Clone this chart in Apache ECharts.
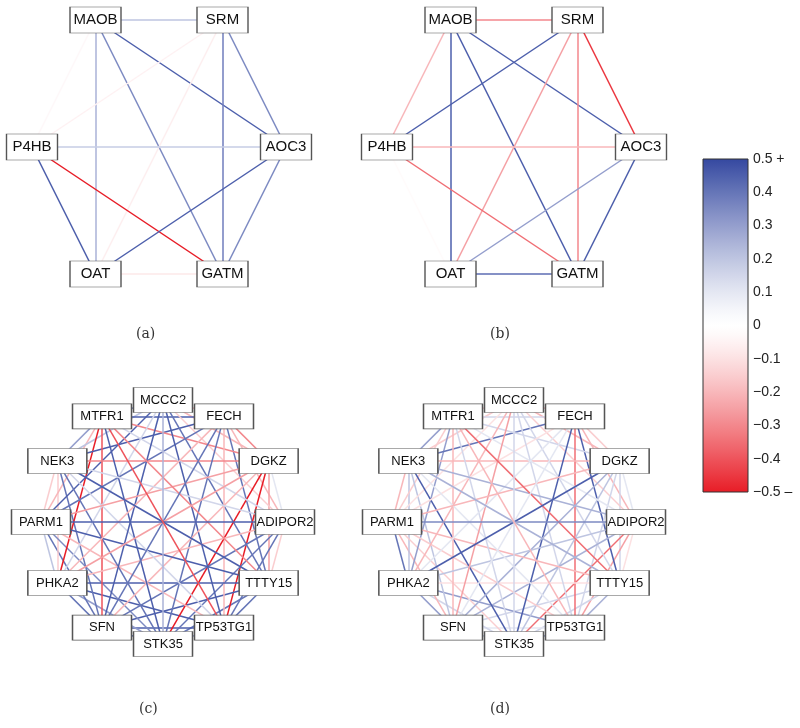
<!DOCTYPE html>
<html>
<head>
<meta charset="utf-8">
<script src="https://cdn.jsdelivr.net/npm/echarts@6/dist/echarts.min.js"></script>
<style>html,body{margin:0;padding:0;background:#fff}#c{width:800px;height:728px}</style>
</head>
<body>
<div id="c"></div>
<script>
// ---------- DATA ----------
const genesTop = ['MAOB', 'SRM', 'AOC3', 'GATM', 'OAT', 'P4HB'];
const anglesTop = [120, 60, 0, -60, -120, 180];
// pairs by index in genesTop
const pairsTop = [
  [0,1],[0,5],[0,2],[0,4],[0,3],
  [1,5],[1,2],[1,4],[1,3],
  [5,2],[5,4],[5,3],
  [2,4],[2,3],
  [4,3]
];
const valuesA = [0.2, -0.03, 0.45, 0.25, 0.35,
                 -0.05, 0.35, -0.06, 0.38,
                 0.18, 0.45, -0.5,
                 0.45, 0.35,
                 -0.08];
const valuesB = [-0.3, -0.2, 0.45, 0.45, 0.45,
                 0.45, -0.45, -0.25, -0.3,
                 -0.2, -0.02, -0.35,
                 0.3, 0.45,
                 0.42];

const genesBottom = ['MCCC2','FECH','DGKZ','ADIPOR2','TTTY15','TP53TG1','STK35','SFN','PHKA2','PARM1','NEK3','MTFR1'];
const pairsBottom = [
  // step 1
  [0,1],[1,2],[2,3],[3,4],[4,5],[5,6],[6,7],[7,8],[8,9],[9,10],[10,11],[11,0],
  // step 2
  [0,2],[1,3],[2,4],[3,5],[4,6],[5,7],[6,8],[7,9],[8,10],[9,11],[10,0],[11,1],
  // step 3
  [0,3],[1,4],[2,5],[3,6],[4,7],[5,8],[6,9],[7,10],[8,11],[9,0],[10,1],[11,2],
  // step 4
  [0,4],[1,5],[2,6],[3,7],[4,8],[5,9],[6,10],[7,11],[8,0],[9,1],[10,2],[11,3],
  // step 5
  [0,5],[1,6],[2,7],[3,8],[4,9],[5,10],[6,11],[7,0],[8,1],[9,2],[10,3],[11,4],
  // step 6
  [0,6],[1,7],[2,8],[3,9],[4,10],[5,11]
];
const valuesC = [
  -0.2, -0.3, 0.1, -0.15, 0.4, 0.3, 0.4, 0.4, 0.2, -0.15, 0.3, 0.35,
  -0.2, -0.2, -0.25, 0.4, 0.4, 0.45, 0.3, 0.4, -0.15, -0.2, 0.2, 0.45,
  -0.15, 0.4, -0.5, 0.4, 0.45, 0.45, 0.35, 0.4, -0.5, 0.45, 0.45, -0.3,
  0.4, -0.2, -0.5, 0.4, 0.45, -0.2, 0.4, -0.4, 0.15, 0.4, -0.3, 0.15,
  0.45, 0.4, -0.2, -0.2, 0.45, 0.15, 0.45, 0.45, -0.2, -0.25, 0.15, -0.3,
  0.25, 0.4, -0.25, 0.45, 0.45, -0.4
];
const valuesD = [
  -0.2, -0.15, 0.1, -0.1, 0.25, 0.3, 0.2, 0.3, 0.4, -0.2, 0.3, -0.15,
  -0.2, -0.2, 0.15, -0.25, 0.15, 0.1, 0.15, -0.2, 0.2, -0.15, -0.15, 0.15,
  -0.15, 0.45, 0.15, -0.35, 0.15, 0.3, -0.15, 0.2, 0.3, -0.1, 0.4, 0.15,
  0.15, -0.35, 0.2, 0.25, -0.1, -0.15, 0.45, -0.2, -0.2, -0.1, -0.2, 0.1,
  0.15, 0.45, 0.25, 0.2, -0.2, 0.1, 0.15, -0.25, 0.1, -0.2, 0.25, -0.35,
  0.15, 0.1, 0.45, 0.35, 0.25, -0.2
];
const panelLabels = ['(a)', '(b)', '(c)', '(d)'];
const colorbarTicks = ['−0.5 –','−0.4','−0.3','−0.2','−0.1','0','0.1','0.2','0.3','0.4','0.5 +'];
const colorbarRange = [-0.5, 0.5];

// ---------- COLOR SCALE ----------
const BLUE = [52, 72, 160], WHITE = [255, 255, 255], RED = [232, 28, 38];
function colorOf(v) {
  const t = Math.max(-1, Math.min(1, v / 0.5));
  const end = t >= 0 ? BLUE : RED;
  const a = Math.pow(Math.abs(t), 1.25);
  const c = WHITE.map((w, i) => Math.round(w + (end[i] - w) * a));
  return 'rgb(' + c.join(',') + ')';
}

// ---------- LAYOUT HELPERS ----------
function ringNodes(names, angles, rx, ry, symSize, fontSize) {
  return names.map((name, i) => {
    const a = angles[i] * Math.PI / 180;
    return {
      name: name,
      x: rx * Math.cos(a),
      y: -ry * Math.sin(a),
      symbolSize: symSize,
      label: { fontSize: fontSize }
    };
  });
}
function makeGraph(names, angles, rx, ry, pairs, values, box, symSize, fontSize) {
  return {
    type: 'graph',
    layout: 'none',
    left: box[0], top: box[1], width: box[2], height: box[3],
    silent: true,
    animation: false,
    symbol: 'rect',
    itemStyle: { color: '#fff', borderColor: '#555', borderWidth: 1 },
    label: { show: true, position: 'inside', color: '#111', fontFamily: 'Liberation Sans, Arial, sans-serif' },
    lineStyle: { width: 1.5, opacity: 1, curveness: 0 },
    emphasis: { disabled: true },
    data: ringNodes(names, angles, rx, ry, symSize, fontSize),
    links: pairs.map((p, k) => ({
      source: names[p[0]], target: names[p[1]],
      lineStyle: { color: colorOf(values[k]) }
    }))
  };
}

const anglesBottom = genesBottom.map((_, i) => 90 - 30 * i);
const rTop = 127, ryTop = 127 / Math.sin(Math.PI / 3);

const chart = echarts.init(document.getElementById('c'), null, { renderer: 'canvas' });
chart.setOption({
  animation: false,
  backgroundColor: '#fff',
  title: [
    { text: panelLabels[0], left: 136, top: 327 },
    { text: panelLabels[1], left: 490, top: 327 },
    { text: panelLabels[2], left: 139, top: 702 },
    { text: panelLabels[3], left: 490, top: 702 }
  ].map(t => Object.assign(t, { padding: 0, textStyle: { fontFamily: 'DejaVu Serif, Liberation Serif, serif', fontWeight: 'normal', fontSize: 14, color: '#333' } })),
  grid: { left: 703, top: 159, width: 45, height: 333 },
  xAxis: { type: 'value', min: 0, max: 1, show: false },
  yAxis: {
    type: 'value', position: 'right', min: colorbarRange[0], max: colorbarRange[1], interval: 0.1,
    axisLine: { show: false }, axisTick: { show: false }, splitLine: { show: false },
    axisLabel: {
      margin: 5, fontSize: 14, color: '#222', fontFamily: 'Liberation Sans, Arial, sans-serif',
      formatter: v => colorbarTicks[Math.round((v + 0.5) * 10)]
    }
  },
  series: [
    makeGraph(genesTop, anglesTop, rTop, ryTop, pairsTop, valuesA, [32, 20, 254, 254], [51, 26], 15),
    makeGraph(genesTop, anglesTop, rTop, ryTop, pairsTop, valuesB, [387, 20, 254, 254], [51, 26], 15),
    makeGraph(genesBottom, anglesBottom, 122, 122, pairsBottom, valuesC, [41, 400, 244, 244], [59, 25], 13),
    makeGraph(genesBottom, anglesBottom, 122, 122, pairsBottom, valuesD, [392, 400, 244, 244], [59, 25], 13),
    {
      type: 'custom',
      silent: true,
      data: [[0, colorbarRange[0], 1, colorbarRange[1]]],
      renderItem: function (params, api) {
        const p0 = api.coord([api.value(0), api.value(3)]);
        const p1 = api.coord([api.value(2), api.value(1)]);
        const stops = [];
        for (let k = 0; k <= 40; k++) {
          const v = colorbarRange[1] - k * (colorbarRange[1] - colorbarRange[0]) / 40;
          stops.push({ offset: k / 40, color: colorOf(v) });
        }
        return {
          type: 'rect',
          shape: { x: p0[0], y: p0[1], width: p1[0] - p0[0], height: p1[1] - p0[1] },
          style: { fill: new echarts.graphic.LinearGradient(0, 0, 0, 1, stops), stroke: '#333', lineWidth: 1 }
        };
      }
    }
  ]
});
</script>
</body>
</html>
